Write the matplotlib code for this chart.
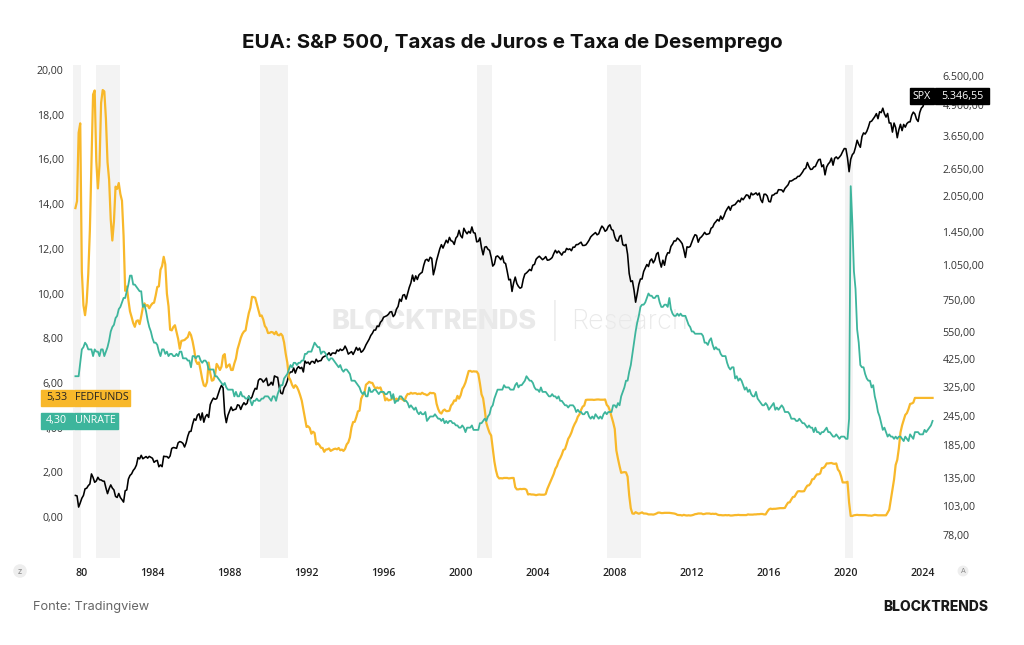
import numpy as np
import matplotlib
matplotlib.use('Agg')
import matplotlib.pyplot as plt
from matplotlib.patches import Rectangle
from matplotlib.ticker import FixedLocator, NullLocator

# ---- Data (monthly, Jan 1980 onwards) ----

start_year = 1980

fedfunds = [
    13.82, 14.13, 17.19, 17.61, 10.98, 9.47, 9.03, 9.61, 10.87, 12.81, 15.85, 18.90,
    19.08, 15.93, 14.70, 15.72, 18.52, 19.10, 19.04, 17.82, 15.87, 15.08, 13.31, 12.37,
    13.22, 14.78, 14.68, 14.94, 14.45, 14.15, 12.59, 10.12, 10.31, 9.71, 9.20, 8.95,
    8.68, 8.51, 8.77, 8.80, 8.63, 8.98, 9.37, 9.56, 9.45, 9.48, 9.34, 9.47,
    9.56, 9.59, 9.91, 10.29, 10.32, 11.06, 11.23, 11.64, 11.30, 9.99, 9.43, 8.38,
    8.35, 8.50, 8.58, 8.27, 7.97, 7.53, 7.88, 7.90, 7.92, 7.99, 8.05, 8.27,
    8.14, 7.86, 7.48, 6.99, 6.85, 6.92, 6.56, 6.17, 5.89, 5.85, 6.04, 6.91,
    6.43, 6.10, 6.13, 6.37, 6.85, 6.73, 6.58, 6.73, 7.22, 7.29, 6.69, 6.77,
    6.83, 6.58, 6.58, 6.87, 7.09, 7.51, 7.75, 8.01, 8.19, 8.30, 8.35, 8.76,
    9.12, 9.36, 9.85, 9.84, 9.81, 9.53, 9.24, 8.99, 9.02, 8.84, 8.55, 8.45,
    8.23, 8.24, 8.28, 8.26, 8.18, 8.29, 8.15, 8.13, 8.20, 8.11, 7.81, 7.31,
    6.91, 6.25, 6.12, 5.91, 5.78, 5.90, 5.82, 5.66, 5.45, 5.21, 4.81, 4.43,
    4.03, 4.06, 3.98, 3.73, 3.82, 3.76, 3.25, 3.30, 3.22, 3.10, 3.09, 2.92,
    3.02, 3.03, 3.07, 2.96, 3.00, 3.04, 3.06, 3.03, 3.09, 2.99, 3.02, 2.96,
    3.05, 3.25, 3.34, 3.56, 4.01, 4.25, 4.26, 4.47, 4.73, 4.76, 5.29, 5.45,
    5.53, 5.92, 5.98, 6.05, 6.01, 6.00, 5.85, 5.74, 5.80, 5.76, 5.80, 5.60,
    5.56, 5.22, 5.31, 5.22, 5.24, 5.27, 5.40, 5.22, 5.30, 5.24, 5.31, 5.29,
    5.25, 5.19, 5.39, 5.51, 5.50, 5.56, 5.52, 5.54, 5.54, 5.50, 5.52, 5.50,
    5.56, 5.51, 5.49, 5.45, 5.49, 5.56, 5.54, 5.55, 5.51, 5.07, 4.83, 4.68,
    4.63, 4.76, 4.81, 4.74, 4.74, 4.76, 4.99, 5.07, 5.22, 5.20, 5.42, 5.30,
    5.45, 5.73, 5.85, 6.02, 6.27, 6.53, 6.54, 6.50, 6.52, 6.51, 6.51, 6.40,
    5.98, 5.49, 5.31, 4.80, 4.21, 3.97, 3.77, 3.65, 3.07, 2.49, 2.09, 1.82,
    1.73, 1.74, 1.73, 1.75, 1.75, 1.75, 1.73, 1.74, 1.75, 1.75, 1.34, 1.24,
    1.24, 1.26, 1.25, 1.26, 1.26, 1.22, 1.01, 1.03, 1.01, 1.01, 1.00, 0.98,
    1.00, 1.01, 1.00, 1.00, 1.00, 1.03, 1.26, 1.43, 1.61, 1.76, 1.93, 2.16,
    2.28, 2.50, 2.63, 2.79, 3.00, 3.04, 3.26, 3.50, 3.62, 3.78, 4.00, 4.16,
    4.29, 4.49, 4.59, 4.79, 4.94, 4.99, 5.24, 5.25, 5.25, 5.25, 5.25, 5.24,
    5.25, 5.26, 5.26, 5.25, 5.25, 5.25, 5.26, 5.02, 4.94, 4.76, 4.49, 4.24,
    3.94, 2.98, 2.61, 2.28, 1.98, 2.00, 2.01, 2.00, 1.81, 0.97, 0.39, 0.16,
    0.15, 0.22, 0.18, 0.15, 0.18, 0.21, 0.16, 0.16, 0.15, 0.12, 0.12, 0.12,
    0.11, 0.13, 0.16, 0.20, 0.20, 0.18, 0.18, 0.19, 0.19, 0.19, 0.19, 0.18,
    0.17, 0.16, 0.14, 0.10, 0.09, 0.09, 0.07, 0.10, 0.08, 0.07, 0.08, 0.07,
    0.08, 0.10, 0.13, 0.14, 0.16, 0.16, 0.16, 0.13, 0.14, 0.16, 0.16, 0.16,
    0.14, 0.15, 0.14, 0.15, 0.11, 0.09, 0.09, 0.08, 0.08, 0.09, 0.08, 0.09,
    0.07, 0.07, 0.08, 0.09, 0.09, 0.10, 0.09, 0.09, 0.09, 0.09, 0.09, 0.12,
    0.11, 0.11, 0.11, 0.12, 0.12, 0.13, 0.13, 0.14, 0.14, 0.12, 0.12, 0.24,
    0.34, 0.38, 0.36, 0.37, 0.37, 0.38, 0.39, 0.40, 0.40, 0.40, 0.41, 0.54,
    0.65, 0.66, 0.79, 0.90, 0.91, 1.04, 1.15, 1.16, 1.15, 1.15, 1.16, 1.30,
    1.41, 1.42, 1.51, 1.69, 1.70, 1.82, 1.91, 1.91, 1.95, 2.19, 2.20, 2.27,
    2.40, 2.40, 2.41, 2.42, 2.39, 2.38, 2.40, 2.13, 2.04, 1.83, 1.55, 1.55,
    1.55, 1.58, 0.65, 0.05, 0.05, 0.08, 0.09, 0.10, 0.09, 0.09, 0.09, 0.09,
    0.09, 0.08, 0.07, 0.07, 0.06, 0.08, 0.10, 0.09, 0.08, 0.08, 0.08, 0.08,
    0.08, 0.08, 0.20, 0.33, 0.77, 1.21, 1.68, 2.33, 2.56, 3.08, 3.78, 4.10,
    4.33, 4.57, 4.65, 4.83, 5.06, 5.08, 5.12, 5.33, 5.33, 5.33, 5.33, 5.33,
    5.33, 5.33, 5.33, 5.33, 5.33, 5.33, 5.33,
]

unrate = [
    6.3, 6.3, 6.3, 6.9, 7.5, 7.6, 7.8, 7.7, 7.5, 7.5, 7.5, 7.2,
    7.5, 7.4, 7.4, 7.2, 7.5, 7.5, 7.2, 7.4, 7.6, 7.9, 8.3, 8.5,
    8.6, 8.9, 9.0, 9.3, 9.4, 9.6, 9.8, 9.8, 10.1, 10.4, 10.8, 10.8,
    10.4, 10.4, 10.3, 10.2, 10.1, 10.1, 9.4, 9.5, 9.2, 8.8, 8.5, 8.3,
    8.0, 7.8, 7.8, 7.7, 7.4, 7.2, 7.5, 7.5, 7.3, 7.4, 7.2, 7.3,
    7.3, 7.2, 7.2, 7.3, 7.2, 7.4, 7.4, 7.1, 7.1, 7.1, 7.0, 7.0,
    6.7, 7.2, 7.2, 7.1, 7.2, 7.2, 7.0, 6.9, 7.0, 7.0, 6.9, 6.6,
    6.6, 6.6, 6.6, 6.3, 6.3, 6.2, 6.1, 6.0, 5.9, 6.0, 5.8, 5.7,
    5.7, 5.7, 5.7, 5.4, 5.6, 5.4, 5.4, 5.6, 5.4, 5.4, 5.3, 5.3,
    5.4, 5.2, 5.0, 5.2, 5.2, 5.3, 5.2, 5.2, 5.3, 5.3, 5.4, 5.4,
    5.4, 5.3, 5.2, 5.4, 5.4, 5.2, 5.5, 5.7, 5.9, 5.9, 6.2, 6.3,
    6.4, 6.6, 6.8, 6.7, 6.9, 6.9, 6.8, 6.9, 6.9, 7.0, 7.0, 7.3,
    7.3, 7.4, 7.4, 7.4, 7.6, 7.8, 7.7, 7.6, 7.6, 7.3, 7.4, 7.4,
    7.3, 7.1, 7.0, 7.1, 7.1, 7.0, 6.9, 6.8, 6.7, 6.8, 6.6, 6.5,
    6.6, 6.6, 6.5, 6.4, 6.1, 6.1, 6.1, 6.0, 5.9, 5.8, 5.6, 5.5,
    5.6, 5.4, 5.4, 5.8, 5.6, 5.6, 5.7, 5.7, 5.6, 5.5, 5.6, 5.6,
    5.6, 5.5, 5.5, 5.6, 5.6, 5.3, 5.5, 5.1, 5.2, 5.2, 5.4, 5.4,
    5.3, 5.2, 5.2, 5.1, 4.9, 5.0, 4.9, 4.8, 4.9, 4.7, 4.6, 4.7,
    4.6, 4.6, 4.7, 4.3, 4.4, 4.5, 4.5, 4.5, 4.6, 4.5, 4.4, 4.4,
    4.3, 4.4, 4.2, 4.3, 4.2, 4.3, 4.3, 4.2, 4.2, 4.1, 4.1, 4.0,
    4.0, 4.1, 4.0, 3.8, 4.0, 4.0, 4.0, 4.1, 3.9, 3.9, 3.9, 3.9,
    4.2, 4.2, 4.3, 4.4, 4.3, 4.5, 4.6, 4.9, 5.0, 5.3, 5.5, 5.7,
    5.7, 5.7, 5.7, 5.9, 5.8, 5.8, 5.8, 5.7, 5.7, 5.7, 5.9, 6.0,
    5.8, 5.9, 5.9, 6.0, 6.1, 6.3, 6.2, 6.1, 6.1, 6.0, 5.8, 5.7,
    5.7, 5.6, 5.8, 5.6, 5.6, 5.6, 5.5, 5.4, 5.4, 5.5, 5.4, 5.4,
    5.3, 5.4, 5.2, 5.2, 5.1, 5.0, 5.0, 4.9, 5.0, 5.0, 5.0, 4.9,
    4.7, 4.8, 4.7, 4.7, 4.6, 4.6, 4.7, 4.7, 4.5, 4.4, 4.5, 4.4,
    4.6, 4.5, 4.4, 4.5, 4.4, 4.6, 4.7, 4.6, 4.7, 4.7, 4.7, 5.0,
    5.0, 4.9, 5.1, 5.0, 5.4, 5.6, 5.8, 6.1, 6.1, 6.5, 6.8, 7.3,
    7.8, 8.3, 8.7, 9.0, 9.4, 9.5, 9.5, 9.6, 9.8, 10.0, 9.9, 9.9,
    9.8, 9.8, 9.9, 9.9, 9.6, 9.4, 9.4, 9.5, 9.5, 9.4, 9.8, 9.3,
    9.1, 9.0, 9.0, 9.1, 9.0, 9.1, 9.0, 9.0, 9.0, 8.8, 8.6, 8.5,
    8.3, 8.3, 8.2, 8.2, 8.2, 8.2, 8.2, 8.1, 7.8, 7.8, 7.7, 7.9,
    8.0, 7.7, 7.5, 7.6, 7.5, 7.5, 7.3, 7.2, 7.2, 7.2, 6.9, 6.7,
    6.6, 6.7, 6.7, 6.2, 6.3, 6.1, 6.2, 6.1, 5.9, 5.7, 5.8, 5.6,
    5.7, 5.5, 5.4, 5.4, 5.6, 5.3, 5.2, 5.1, 5.0, 5.0, 5.1, 5.0,
    4.8, 4.9, 5.0, 5.1, 4.8, 4.9, 4.8, 4.9, 5.0, 4.9, 4.7, 4.7,
    4.7, 4.6, 4.4, 4.4, 4.4, 4.3, 4.3, 4.4, 4.3, 4.2, 4.2, 4.1,
    4.0, 4.1, 4.0, 4.0, 3.8, 4.0, 3.8, 3.8, 3.7, 3.8, 3.8, 3.9,
    4.0, 3.8, 3.8, 3.7, 3.6, 3.6, 3.7, 3.6, 3.5, 3.6, 3.6, 3.6,
    3.5, 3.5, 4.4, 14.8, 13.2, 11.0, 10.2, 8.4, 7.8, 6.8, 6.7, 6.7,
    6.4, 6.2, 6.1, 6.1, 5.8, 5.9, 5.4, 5.1, 4.7, 4.5, 4.2, 3.9,
    4.0, 3.8, 3.6, 3.7, 3.6, 3.6, 3.5, 3.6, 3.5, 3.6, 3.6, 3.5,
    3.4, 3.6, 3.5, 3.4, 3.7, 3.6, 3.5, 3.8, 3.8, 3.8, 3.7, 3.7,
    3.7, 3.9, 3.8, 3.9, 4.0, 4.1, 4.3,
]

spx = [
    114.2, 113.7, 102.1, 106.3, 111.2, 114.2, 121.7, 122.4, 125.5, 127.5, 140.5, 135.8,
    129.6, 131.3, 136.0, 132.8, 132.6, 131.2, 130.9, 122.8, 116.2, 121.9, 126.4, 122.6,
    120.4, 113.1, 112.0, 116.4, 111.9, 109.6, 107.1, 119.5, 120.4, 133.7, 138.5, 140.6,
    145.3, 148.1, 153.0, 164.4, 162.4, 168.1, 162.6, 164.4, 166.1, 163.6, 166.4, 164.9,
    163.4, 157.1, 159.2, 160.1, 150.6, 153.2, 150.7, 166.7, 166.1, 166.1, 163.6, 167.2,
    179.6, 181.2, 180.7, 179.8, 189.6, 191.9, 190.9, 188.6, 182.1, 189.8, 202.2, 211.3,
    211.8, 226.9, 238.9, 235.5, 247.4, 250.8, 236.1, 252.9, 231.3, 244.0, 249.2, 242.2,
    274.1, 284.2, 291.7, 288.4, 290.1, 304.0, 318.7, 329.8, 321.8, 251.8, 230.3, 247.1,
    257.1, 267.8, 258.9, 261.3, 262.2, 273.5, 272.0, 261.5, 271.9, 279.0, 273.7, 277.7,
    297.5, 288.9, 294.9, 309.6, 320.5, 318.0, 346.1, 351.5, 349.2, 340.4, 346.0, 353.4,
    329.1, 331.9, 339.9, 330.8, 361.2, 358.0, 356.2, 322.6, 306.1, 304.0, 322.2, 330.2,
    343.9, 367.1, 375.2, 375.3, 389.8, 371.2, 387.8, 395.4, 387.9, 392.5, 375.2, 417.1,
    408.8, 412.7, 403.7, 415.0, 415.4, 408.1, 424.2, 414.0, 417.8, 418.7, 431.4, 435.7,
    438.8, 443.4, 451.7, 440.2, 450.2, 450.5, 448.1, 463.6, 458.9, 467.8, 461.8, 466.5,
    481.6, 467.1, 445.8, 450.9, 456.5, 444.3, 458.3, 475.5, 462.7, 472.4, 453.7, 459.3,
    470.4, 487.4, 500.7, 514.7, 533.4, 544.8, 562.1, 561.9, 584.4, 581.5, 605.4, 615.9,
    636.0, 640.4, 645.5, 654.2, 669.1, 670.6, 640.0, 652.0, 687.3, 705.3, 757.0, 740.7,
    786.2, 790.8, 757.1, 801.3, 848.3, 885.1, 954.3, 899.5, 947.3, 914.6, 955.4, 970.4,
    980.3, 1049.3, 1101.8, 1111.8, 1090.8, 1133.8, 1120.7, 957.3, 1017.0, 1098.7, 1163.6, 1229.2,
    1279.6, 1238.3, 1286.4, 1335.2, 1301.8, 1372.7, 1328.7, 1320.4, 1282.7, 1362.9, 1388.9, 1469.3,
    1394.5, 1366.4, 1498.6, 1452.4, 1420.6, 1454.6, 1430.8, 1517.7, 1436.5, 1429.4, 1315.0, 1320.3,
    1366.0, 1239.9, 1160.3, 1249.5, 1255.8, 1224.4, 1211.2, 1133.6, 1040.9, 1059.8, 1139.5, 1148.1,
    1130.2, 1106.7, 1147.4, 1076.9, 1067.1, 989.8, 911.6, 916.1, 815.3, 885.8, 936.3, 879.8,
    855.7, 841.2, 848.2, 916.9, 963.6, 974.5, 990.3, 1008.0, 996.0, 1050.7, 1058.2, 1111.9,
    1131.1, 1144.9, 1126.2, 1107.3, 1120.7, 1140.8, 1101.7, 1104.2, 1114.6, 1130.2, 1173.8, 1211.9,
    1181.3, 1203.6, 1180.6, 1156.9, 1191.5, 1191.3, 1234.2, 1220.3, 1228.8, 1207.0, 1249.5, 1248.3,
    1280.1, 1280.7, 1294.9, 1310.6, 1270.1, 1270.2, 1276.7, 1303.8, 1335.9, 1377.9, 1400.6, 1418.3,
    1438.2, 1406.8, 1420.9, 1482.4, 1530.6, 1503.4, 1455.3, 1474.0, 1526.8, 1549.4, 1481.1, 1468.4,
    1378.6, 1330.6, 1322.7, 1385.6, 1400.4, 1280.0, 1267.4, 1282.8, 1166.4, 968.8, 896.2, 903.3,
    825.9, 735.1, 797.9, 872.8, 919.1, 919.3, 987.5, 1020.6, 1057.1, 1036.2, 1095.6, 1115.1,
    1073.9, 1104.5, 1169.4, 1186.7, 1089.4, 1030.7, 1101.6, 1049.3, 1141.2, 1183.3, 1180.6, 1257.6,
    1286.1, 1327.2, 1325.8, 1363.6, 1345.2, 1320.6, 1292.3, 1218.9, 1131.4, 1253.3, 1247.0, 1257.6,
    1312.4, 1365.7, 1408.5, 1397.9, 1310.3, 1362.2, 1379.3, 1406.6, 1440.7, 1412.2, 1416.2, 1426.2,
    1498.1, 1514.7, 1569.2, 1597.6, 1630.7, 1606.3, 1685.7, 1633.0, 1681.6, 1756.5, 1805.8, 1848.4,
    1782.6, 1859.5, 1872.3, 1884.0, 1923.6, 1960.2, 1930.7, 2003.4, 1972.3, 2018.1, 2067.6, 2058.9,
    1995.0, 2104.5, 2067.9, 2085.5, 2107.4, 2063.1, 2103.8, 1972.2, 1920.0, 2079.4, 2080.4, 2043.9,
    1940.2, 1932.2, 2059.7, 2065.3, 2097.0, 2098.9, 2173.6, 2171.0, 2168.3, 2126.2, 2199.0, 2238.8,
    2278.9, 2363.6, 2362.7, 2384.2, 2411.8, 2423.4, 2470.3, 2471.7, 2519.4, 2575.3, 2647.6, 2673.6,
    2823.8, 2713.8, 2640.9, 2648.1, 2705.3, 2718.4, 2816.3, 2901.5, 2914.0, 2711.7, 2760.2, 2506.9,
    2704.1, 2784.5, 2834.4, 2945.8, 2752.1, 2941.8, 2980.4, 2926.5, 2976.7, 3037.6, 3141.0, 3230.8,
    3225.5, 2954.2, 2584.6, 2912.4, 3044.3, 3100.3, 3271.1, 3500.3, 3363.0, 3270.0, 3621.6, 3756.1,
    3714.2, 3811.2, 3972.9, 4181.2, 4204.1, 4297.5, 4395.3, 4522.7, 4307.5, 4605.4, 4567.0, 4766.2,
    4515.6, 4373.9, 4530.4, 4131.9, 4132.2, 3785.4, 4130.3, 3955.0, 3585.6, 3872.0, 4080.1, 3839.5,
    4076.6, 3970.2, 4109.3, 4169.5, 4179.8, 4450.4, 4589.0, 4507.7, 4288.1, 4193.8, 4567.8, 4769.8,
    4845.7, 5096.3, 5254.4, 5035.7, 5277.5, 5460.5, 5522.3, 5346.55,
]

# recession bands (start, end) in decimal years, as shaded in the source
recessions = [(1979.89, 1980.29), (1981.07, 1982.29), (1989.59, 1991.04),
              (2000.85, 2001.63), (2007.60, 2009.37), (2019.95, 2020.37)]

left_ticks = [0, 2, 4, 6, 8, 10, 12, 14, 16, 18, 20]
right_ticks = [78, 103, 135, 185, 245, 325, 425, 550, 750, 1050,
               1450, 2050, 2650, 3650, 4900, 6500]
year_ticks = [1980, 1984, 1988, 1992, 1996, 2000, 2004, 2008, 2012, 2016, 2020, 2024]
year_labels = ['80', '1984', '1988', '1992', '1996', '2000', '2004', '2008',
               '2012', '2016', '2020', '2024']

YELLOW = '#F8B82A'
TEAL = '#3DB59C'
WMARK = '#e9e9e9'


def br(v, dec=2):
    # brazilian number format: 5.346,55
    s = f'{v:,.{dec}f}'
    return s.replace(',', 'X').replace('.', ',').replace('X', '.')


def months(n):
    return start_year + np.arange(n) / 12.0


W, H = 1024, 645
fig = plt.figure(figsize=(W / 100, H / 100), dpi=100)
fig.patch.set_facecolor('white')

ax_l, ax_r, ax_t, ax_b = 73.3, 937, 65, 558
ax = fig.add_axes([ax_l / W, 1 - ax_b / H, (ax_r - ax_l) / W, (ax_b - ax_t) / H])
ax2 = ax.twinx()

# SPX on the log axis, drawn underneath
ax.set_zorder(2)
ax.patch.set_visible(False)
ax2.set_zorder(1)

for a, b in recessions:
    ax2.axvspan(a, b, color='#f3f3f3', lw=0, zorder=0)

# watermark sits behind the lines
ax2.text(537 / W, 1 - 322 / H, 'BLOCKTRENDS', ha='right', va='center',
         transform=fig.transFigure, family='Inter', weight='heavy', size=19.5,
         color=WMARK, zorder=1)
ax2.text(555 / W, 1 - 321 / H, '|', ha='center', va='center',
         transform=fig.transFigure, family='Inter', weight='light', size=24,
         color=WMARK, zorder=1)
ax2.text(571 / W, 1 - 322 / H, 'Research', ha='left', va='center',
         transform=fig.transFigure, family='Inter', weight='light', size=19.5,
         color=WMARK, zorder=1)

ax2.plot(months(len(spx)), spx, color='black', lw=1.15, zorder=2)
ax2.set_yscale('log')
ax2.set_ylim(62.5, 7226)

ax.plot(months(len(fedfunds)), fedfunds, color=YELLOW, lw=1.6, zorder=3)
ax.plot(months(len(unrate)), unrate, color=TEAL, lw=1.3, zorder=4)
ax.set_ylim(-1.83, 20.22)
ax.set_xlim(1979.89, 2024.73)

tick_font = dict(family='Open Sans', size=7.7, color='#333333')

ax.yaxis.set_major_locator(FixedLocator(left_ticks))
ax.set_yticklabels([br(v) for v in left_ticks], **tick_font)
ax.tick_params(axis='y', length=0, pad=7)

ax2.yaxis.set_major_locator(FixedLocator(right_ticks))
ax2.yaxis.set_minor_locator(NullLocator())
ax2.set_yticklabels([br(v) for v in right_ticks], **tick_font)
ax2.tick_params(axis='y', which='both', length=0, pad=4)

ax.xaxis.set_major_locator(FixedLocator(year_ticks))
ax.set_xticklabels(year_labels, family='Open Sans', size=7.7, color='#222222',
                   weight='semibold')
ax.tick_params(axis='x', length=0, pad=7)
ax.get_xticklabels()[0].set_horizontalalignment('left')

for a in (ax, ax2):
    for sp in a.spines.values():
        sp.set_visible(False)

# ---- Value tags ----

def tag(x0, x1, yc, color, text, tcolor, size=7.7):
    h = 16
    fig.patches.append(Rectangle((x0 / W, (yc - h / 2) / H), (x1 - x0) / W, h / H,
                                 transform=fig.transFigure, color=color, zorder=10))
    fig.text((x0 + x1) / 2 / W, yc / H, text, ha='center', va='center',
             color=tcolor, family='Open Sans', size=size, zorder=11)


y_ff = ax.transData.transform((2000, fedfunds[-1]))[1]
y_un = ax.transData.transform((2000, unrate[-1]))[1]
y_sp = ax2.transData.transform((2000, spx[-1]))[1]

tag(41, 72.5, y_ff, YELLOW, br(fedfunds[-1]), '#222222')
tag(73.5, 130, y_ff, YELLOW, 'FEDFUNDS', '#222222')
tag(41, 72.5, y_un, TEAL, br(unrate[-1]), 'white')
tag(73.5, 118, y_un, TEAL, 'UNRATE', 'white')
tag(910, 934, y_sp, 'black', 'SPX', 'white')
tag(935, 989, y_sp, 'black', br(spx[-1]), 'white')

# ---- Title and footer ----

fig.text(0.5, 1 - 43 / H, 'EUA: S&P 500, Taxas de Juros e Taxa de Desemprego',
         ha='center', va='center', family='Inter', weight='bold', size=14.8,
         color='#111111')

fig.text(33 / W, 1 - 607 / H, 'Fonte: Tradingview', ha='left', va='center',
         family='Inter', size=9.2, color='#666666')
fig.text(988 / W, 1 - 607 / H, 'BLOCKTRENDS', ha='right', va='center',
         family='Inter', weight='heavy', size=10, color='#1a1a1a')

# small chart-control glyphs
fig.text(20 / W, 1 - 571 / H, 'z', ha='center', va='center', size=5.5, color='#888888',
         bbox=dict(boxstyle='circle,pad=0.3', fc='#eeeeee', ec='none'))
fig.text(963 / W, 1 - 571 / H, 'A', ha='center', va='center', size=5, color='#888888',
         bbox=dict(boxstyle='circle,pad=0.35', fc='#eeeeee', ec='none'))

fig.savefig('out.png', dpi=100, facecolor='white')
